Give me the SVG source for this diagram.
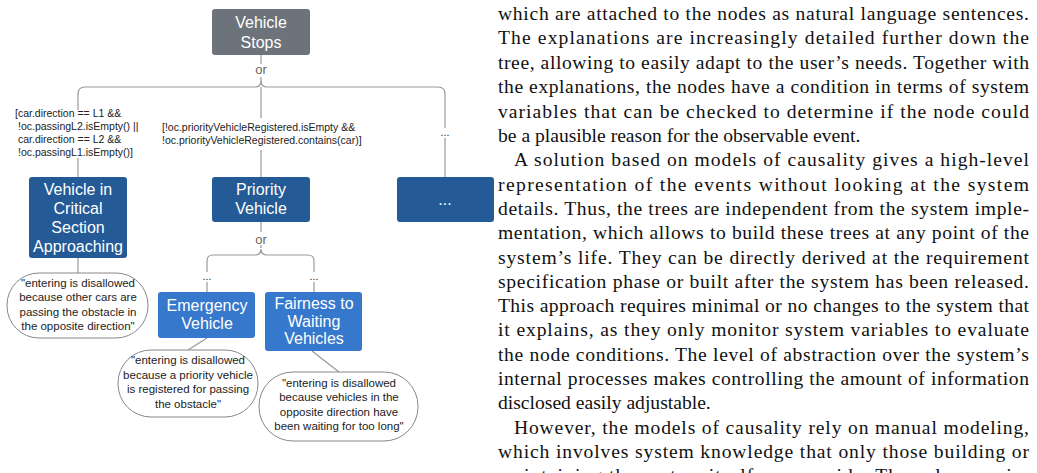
<svg xmlns="http://www.w3.org/2000/svg" width="1037" height="473" viewBox="0 0 1037 473">
<style>
.n{font-family:"Liberation Sans",Arial,sans-serif;font-size:16px;fill:#fff;text-anchor:middle}
.l{font-family:"Liberation Sans",Arial,sans-serif;font-size:10.5px;fill:#222}
.e{font-family:"Liberation Sans",Arial,sans-serif;font-size:11.5px;fill:#222;text-anchor:middle}
.or{font-family:"Liberation Sans",Arial,sans-serif;font-size:13px;fill:#666;text-anchor:middle}
.c{fill:none;stroke:#999;stroke-width:1.2}
.b{fill:#fff;stroke:#888;stroke-width:1}
.p{font-family:"Liberation Serif","Times New Roman",serif;font-size:19.6px;fill:#111}
</style>
<rect width="1037" height="473" fill="#fff"/>
<g id="connectors">
<path class="c" d="M261 55V64M261 77V82"/>
<path class="c" d="M78 110V94Q78 87 85 87H255Q261 87 261 81Q261 87 267 87H438Q445 87 445 94V128M445 138V177"/>
<path class="c" d="M261 87V118M261 150V177M78 158V177"/>
<path class="c" d="M261 222V232M261 245V248"/>
<path class="c" d="M207 272V261Q207 255 213 255H255Q261 255 261 249Q261 255 267 255H308Q314 255 314 261V272M207 282V292M314 282V292"/>
<path class="c" d="M78 258V273M207 338L188 350M312 351L339 372"/>
</g>
<text class="or" x="261" y="74">or</text>
<text class="or" x="261" y="244">or</text>
<text class="l" x="15" y="117">[car.direction == L1 &amp;&amp;</text>
<text class="l" x="18" y="130">!oc.passingL2.isEmpty() ||</text>
<text class="l" x="18" y="143">car.direction == L2 &amp;&amp;</text>
<text class="l" x="18" y="156">!oc.passingL1.isEmpty()]</text>
<text class="l" x="162" y="131">[!oc.priorityVehicleRegistered.isEmpty &amp;&amp;</text>
<text class="l" x="162" y="144">!oc.priorityVehicleRegistered.contains(car)]</text>
<text class="l" x="445" y="136" text-anchor="middle">...</text>
<text class="l" x="207" y="280" text-anchor="middle">...</text>
<text class="l" x="314" y="280" text-anchor="middle">...</text>
<g id="vehicle-stops"><rect x="212" y="9" width="98" height="46" rx="3" fill="#6c737b"/><text class="n" x="261" y="28">Vehicle</text><text class="n" x="261" y="48">Stops</text></g>
<g id="critical"><rect x="29" y="177" width="98" height="81" rx="3" fill="#245a96"/><text class="n" x="78" y="195">Vehicle in</text><text class="n" x="78" y="214">Critical</text><text class="n" x="78" y="233">Section</text><text class="n" x="78" y="252">Approaching</text></g>
<g id="priority"><rect x="212" y="177" width="98" height="45" rx="3" fill="#245a96"/><text class="n" x="261" y="195">Priority</text><text class="n" x="261" y="214">Vehicle</text></g>
<g id="other"><rect x="397" y="177" width="97" height="45" rx="3" fill="#245a96"/><text class="n" x="445" y="205">...</text></g>
<g id="emergency"><rect x="158" y="292" width="97" height="46" rx="3" fill="#3678cb"/><text class="n" x="207" y="311">Emergency</text><text class="n" x="207" y="329">Vehicle</text></g>
<g id="fairness"><rect x="265" y="292" width="97" height="59" rx="3" fill="#3678cb"/><text class="n" x="314" y="309">Fairness to</text><text class="n" x="314" y="327">Waiting</text><text class="n" x="314" y="344">Vehicles</text></g>
<g id="expl1"><rect class="b" x="7" y="273" width="141" height="65" rx="32"/><text class="e" x="78" y="287">"entering is disallowed</text><text class="e" x="78" y="301">because other cars are</text><text class="e" x="78" y="316">passing the obstacle in</text><text class="e" x="78" y="330">the opposite direction"</text></g>
<g id="expl2"><rect class="b" x="118" y="350" width="140" height="67" rx="33"/><text class="e" x="188" y="364">"entering is disallowed</text><text class="e" x="188" y="379">because a priority vehicle</text><text class="e" x="188" y="393">is registered for passing</text><text class="e" x="188" y="408">the obstacle"</text></g>
<g id="expl3"><rect class="b" x="259" y="372" width="159" height="69" rx="34"/><text class="e" x="339" y="387">"entering is disallowed</text><text class="e" x="339" y="401">because vehicles in the</text><text class="e" x="339" y="416">opposite direction have</text><text class="e" x="339" y="430">been waiting for too long"</text></g>
<g id="paragraph" class="p">
<text x="498" y="20" textLength="531" lengthAdjust="spacing">which are attached to the nodes as natural language sentences.</text>
<text x="498" y="44" textLength="531" lengthAdjust="spacing">The explanations are increasingly detailed further down the</text>
<text x="498" y="69" textLength="531" lengthAdjust="spacing">tree, allowing to easily adapt to the user’s needs. Together with</text>
<text x="498" y="93" textLength="531" lengthAdjust="spacing">the explanations, the nodes have a condition in terms of system</text>
<text x="498" y="118" textLength="531" lengthAdjust="spacing">variables that can be checked to determine if the node could</text>
<text x="498" y="142">be a plausible reason for the observable event.</text>
<text x="514" y="166" textLength="515" lengthAdjust="spacing">A solution based on models of causality gives a high-level</text>
<text x="498" y="191" textLength="531" lengthAdjust="spacing">representation of the events without looking at the system</text>
<text x="498" y="215" textLength="531" lengthAdjust="spacing">details. Thus, the trees are independent from the system imple-</text>
<text x="498" y="239" textLength="531" lengthAdjust="spacing">mentation, which allows to build these trees at any point of the</text>
<text x="498" y="264" textLength="531" lengthAdjust="spacing">system’s life. They can be directly derived at the requirement</text>
<text x="498" y="288" textLength="531" lengthAdjust="spacing">specification phase or built after the system has been released.</text>
<text x="498" y="312" textLength="531" lengthAdjust="spacing">This approach requires minimal or no changes to the system that</text>
<text x="498" y="336" textLength="531" lengthAdjust="spacing">it explains, as they only monitor system variables to evaluate</text>
<text x="498" y="361" textLength="531" lengthAdjust="spacing">the node conditions. The level of abstraction over the system’s</text>
<text x="498" y="385" textLength="531" lengthAdjust="spacing">internal processes makes controlling the amount of information</text>
<text x="498" y="409">disclosed easily adjustable.</text>
<text x="514" y="434" textLength="515" lengthAdjust="spacing">However, the models of causality rely on manual modeling,</text>
<text x="498" y="458" textLength="531" lengthAdjust="spacing">which involves system knowledge that only those building or</text>
<text x="498" y="482" textLength="531" lengthAdjust="spacing">maintaining the system itself can provide. They also require</text>
</g>
</svg>
